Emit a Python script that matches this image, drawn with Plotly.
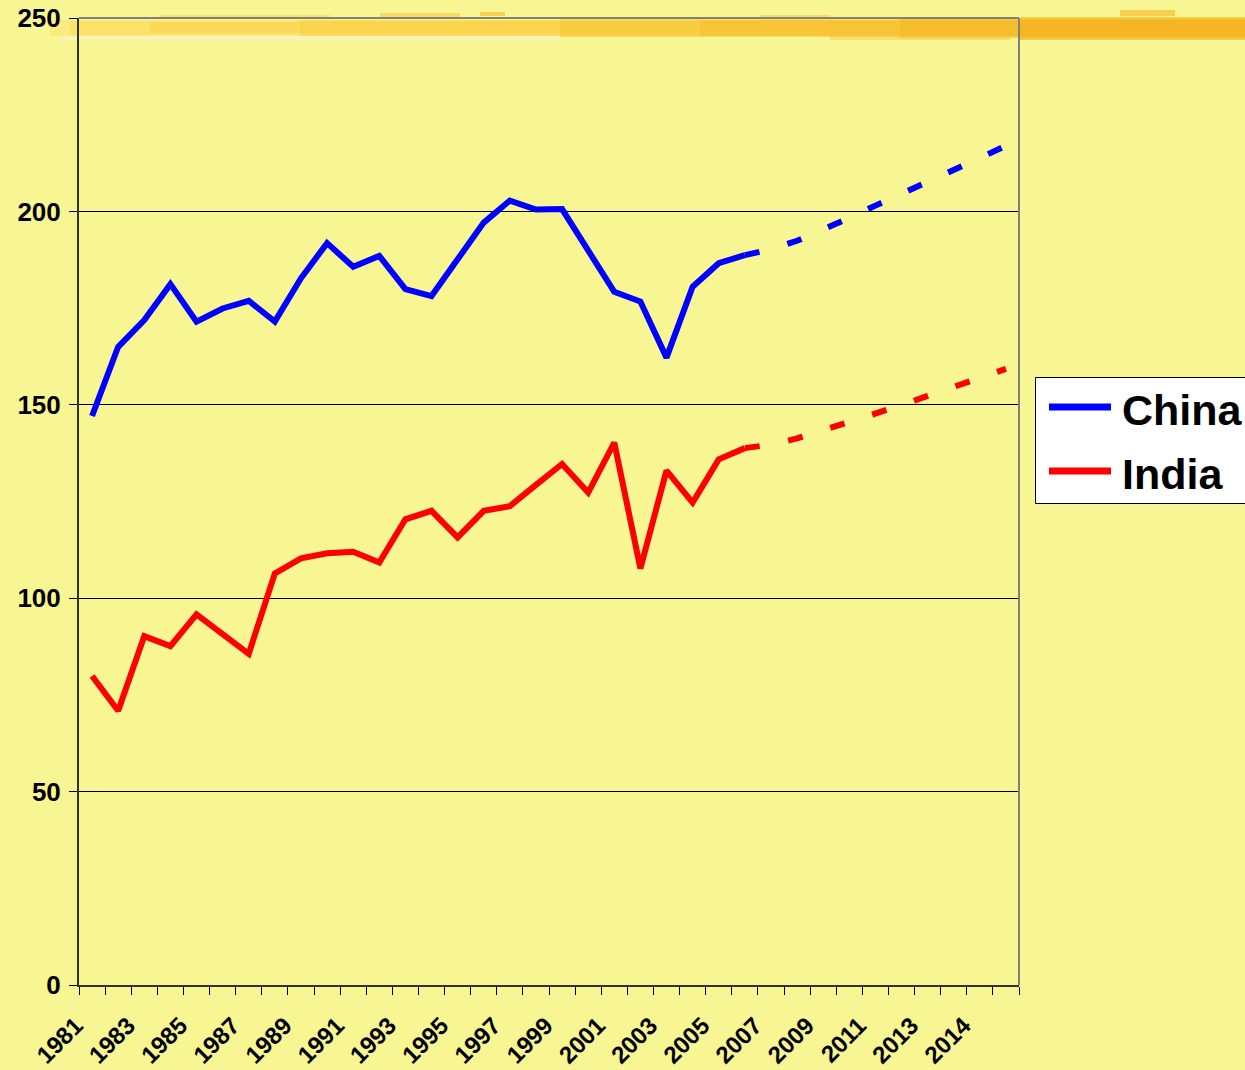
import plotly.graph_objects as go

# ---- data -------------------------------------------------------------
# One slot per period on the horizontal axis (1981 ... 2016)
periods = [str(y) for y in range(1981, 2017)]

# Recorded series, 1981-2006
hist_periods = periods[:26]
china_hist = [147.1, 165.0, 171.9, 181.2, 171.5, 174.9, 176.9, 171.5, 182.7, 191.8,
              185.7, 188.5, 179.9, 178.1, 187.6, 197.1, 202.8, 200.5, 200.6, 190.0,
              179.2, 176.7, 162.2, 180.5, 186.6, 188.7]
india_hist = [79.9, 70.9, 90.2, 87.6, 95.8, 90.9, 85.6, 106.4, 110.3, 111.6,
              112.0, 109.2, 120.4, 122.6, 115.7, 122.6, 123.8, 129.3, 134.7, 127.3,
              140.2, 107.7, 133.0, 124.7, 135.9, 138.8]

# Projected series, 2006 onward
proj_periods = periods[25:]
china_proj = [188.7, 190.2, 192.4, 195.2, 198.3, 201.5, 204.5, 207.5, 210.5, 213.8, 217.0]
india_proj = [138.8, 139.7, 141.3, 143.4, 145.4, 147.6, 149.9, 152.3, 154.6, 157.0, 159.3]

# Category labels printed under every second slot
tick_labels = ["1981", "1983", "1985", "1987", "1989", "1991", "1993", "1995", "1997",
               "1999", "2001", "2003", "2005", "2007", "2009", "2011", "2013", "2014"]

y_ticks = [0, 50, 100, 150, 200, 250]

series_names = ["China", "India"]
series_colors = ["#0000FF", "#FF0000"]

# ---- layout geometry --------------------------------------------------
W, H = 1245, 1070
ML, MR, MT, MB = 79, 226, 18, 85
PW, PH = W - ML - MR, H - MT - MB


def fx(px):
    return (px - ML) / PW


def fy(py):
    return (H - MB - py) / PH


BG = "#F7F693"
FONT = "Liberation Sans, Arial, sans-serif"

slot = {p: i for i, p in enumerate(periods)}

fig = go.Figure()

for name, color, hist, proj in zip(series_names, series_colors,
                                   [china_hist, india_hist], [china_proj, india_proj]):
    fig.add_trace(go.Scatter(
        x=[slot[p] for p in hist_periods], y=hist, mode="lines", name=name,
        line=dict(color=color, width=6), showlegend=False, hoverinfo="skip"))
    fig.add_trace(go.Scatter(
        x=[slot[p] for p in proj_periods], y=proj, mode="lines", name=name + " (projected)",
        line=dict(color=color, width=6, dash="15px,29px"), showlegend=False, hoverinfo="skip"))

# tick marks sit on slot boundaries; labels under every second slot
n = len(periods)
tickvals = [i - 0.5 for i in range(n + 1)]
ticktext = [""] * (n + 1)
for k, lab in enumerate(tick_labels):
    ticktext[2 * k] = lab

shapes = []

# painted brush stroke across the top of the slide
strokes = [
    (50, 1245, 20, 36, "#FCE57A", 0.75),
    (70, 1245, 21, 35, "#FBDD5E", 0.65),
    (150, 1245, 22, 33, "#FAD54B", 0.6),
    (300, 1245, 20, 36, "#F9CF42", 0.55),
    (560, 1245, 19, 37, "#F8C637", 0.5),
    (700, 1245, 20, 36, "#F6BD2C", 0.55),
    (900, 1245, 19, 38, "#F5B626", 0.5),
    (1020, 1245, 17, 40, "#F4B020", 0.65),
    (60, 560, 36, 40, "#FBF1C4", 0.8),
    (160, 330, 15, 18, "#F9D552", 0.6),
    (380, 460, 13, 17, "#F7CB40", 0.6),
    (480, 505, 12, 16, "#F7C336", 0.7),
    (760, 830, 15, 19, "#F7C336", 0.5),
    (1120, 1175, 10, 16, "#F4B525", 0.6),
    (830, 1010, 36, 40, "#F5C03A", 0.45),
]
for x0, x1, y0, y1, c, op in strokes:
    shapes.append(dict(type="rect", xref="paper", yref="paper", layer="below",
                       x0=fx(x0), x1=fx(x1), y0=fy(y1), y1=fy(y0),
                       fillcolor=c, opacity=op, line=dict(width=0)))

# top and right frame of the plotting area
shapes.append(dict(type="line", xref="paper", yref="paper", x0=0, x1=1, y0=1, y1=1,
                   line=dict(color="#808080", width=2)))
shapes.append(dict(type="line", xref="paper", yref="paper", x0=1, x1=1, y0=0, y1=1,
                   line=dict(color="#808080", width=2)))

# legend box
shapes.append(dict(type="rect", xref="paper", yref="paper",
                   x0=fx(1035.5), x1=fx(1265), y0=fy(503.5), y1=fy(377.5),
                   fillcolor="#FFFFFF", line=dict(color="#000000", width=1)))
annotations = []
for i, (name, color) in enumerate(zip(series_names, series_colors)):
    yc = 407 + 64 * i
    shapes.append(dict(type="line", xref="paper", yref="paper",
                       x0=fx(1049), x1=fx(1111), y0=fy(yc), y1=fy(yc),
                       line=dict(color=color, width=7)))
    annotations.append(dict(xref="paper", yref="paper", x=fx(1120), y=fy(yc + 3),
                            xanchor="left", yanchor="middle", showarrow=False,
                            text=name, font=dict(family=FONT, size=43, color="#000000",
                                                 weight="bold")))

fig.update_layout(
    width=W, height=H,
    margin=dict(l=ML, r=MR, t=MT, b=MB, pad=0, autoexpand=False),
    paper_bgcolor=BG, plot_bgcolor="rgba(0,0,0,0)",
    showlegend=False,
    shapes=shapes, annotations=annotations,
    xaxis=dict(range=[-0.5, n - 0.5], tickmode="array", tickvals=tickvals, ticktext=ticktext,
               ticks="outside", ticklen=8, tickwidth=1, tickcolor="#000000",
               ticklabelstandoff=7, ticklabelshift=-3,
               tickangle=-45, tickfont=dict(family=FONT, size=24, color="#000000", weight="bold"),
               showline=True, linecolor="#333333", linewidth=2, automargin=False,
               showgrid=False, zeroline=False, fixedrange=True),
    yaxis=dict(range=[0, 250], tickmode="array", tickvals=y_ticks,
               ticks="outside", ticklen=8, tickwidth=1, tickcolor="#000000",
               ticklabelstandoff=3,
               tickfont=dict(family=FONT, size=26, color="#000000", weight="bold"),
               showline=True, linecolor="#333333", linewidth=2, automargin=False,
               showgrid=True, gridcolor="#000000", gridwidth=1,
               zeroline=False, fixedrange=True),
)

fig.write_html("out.html")
